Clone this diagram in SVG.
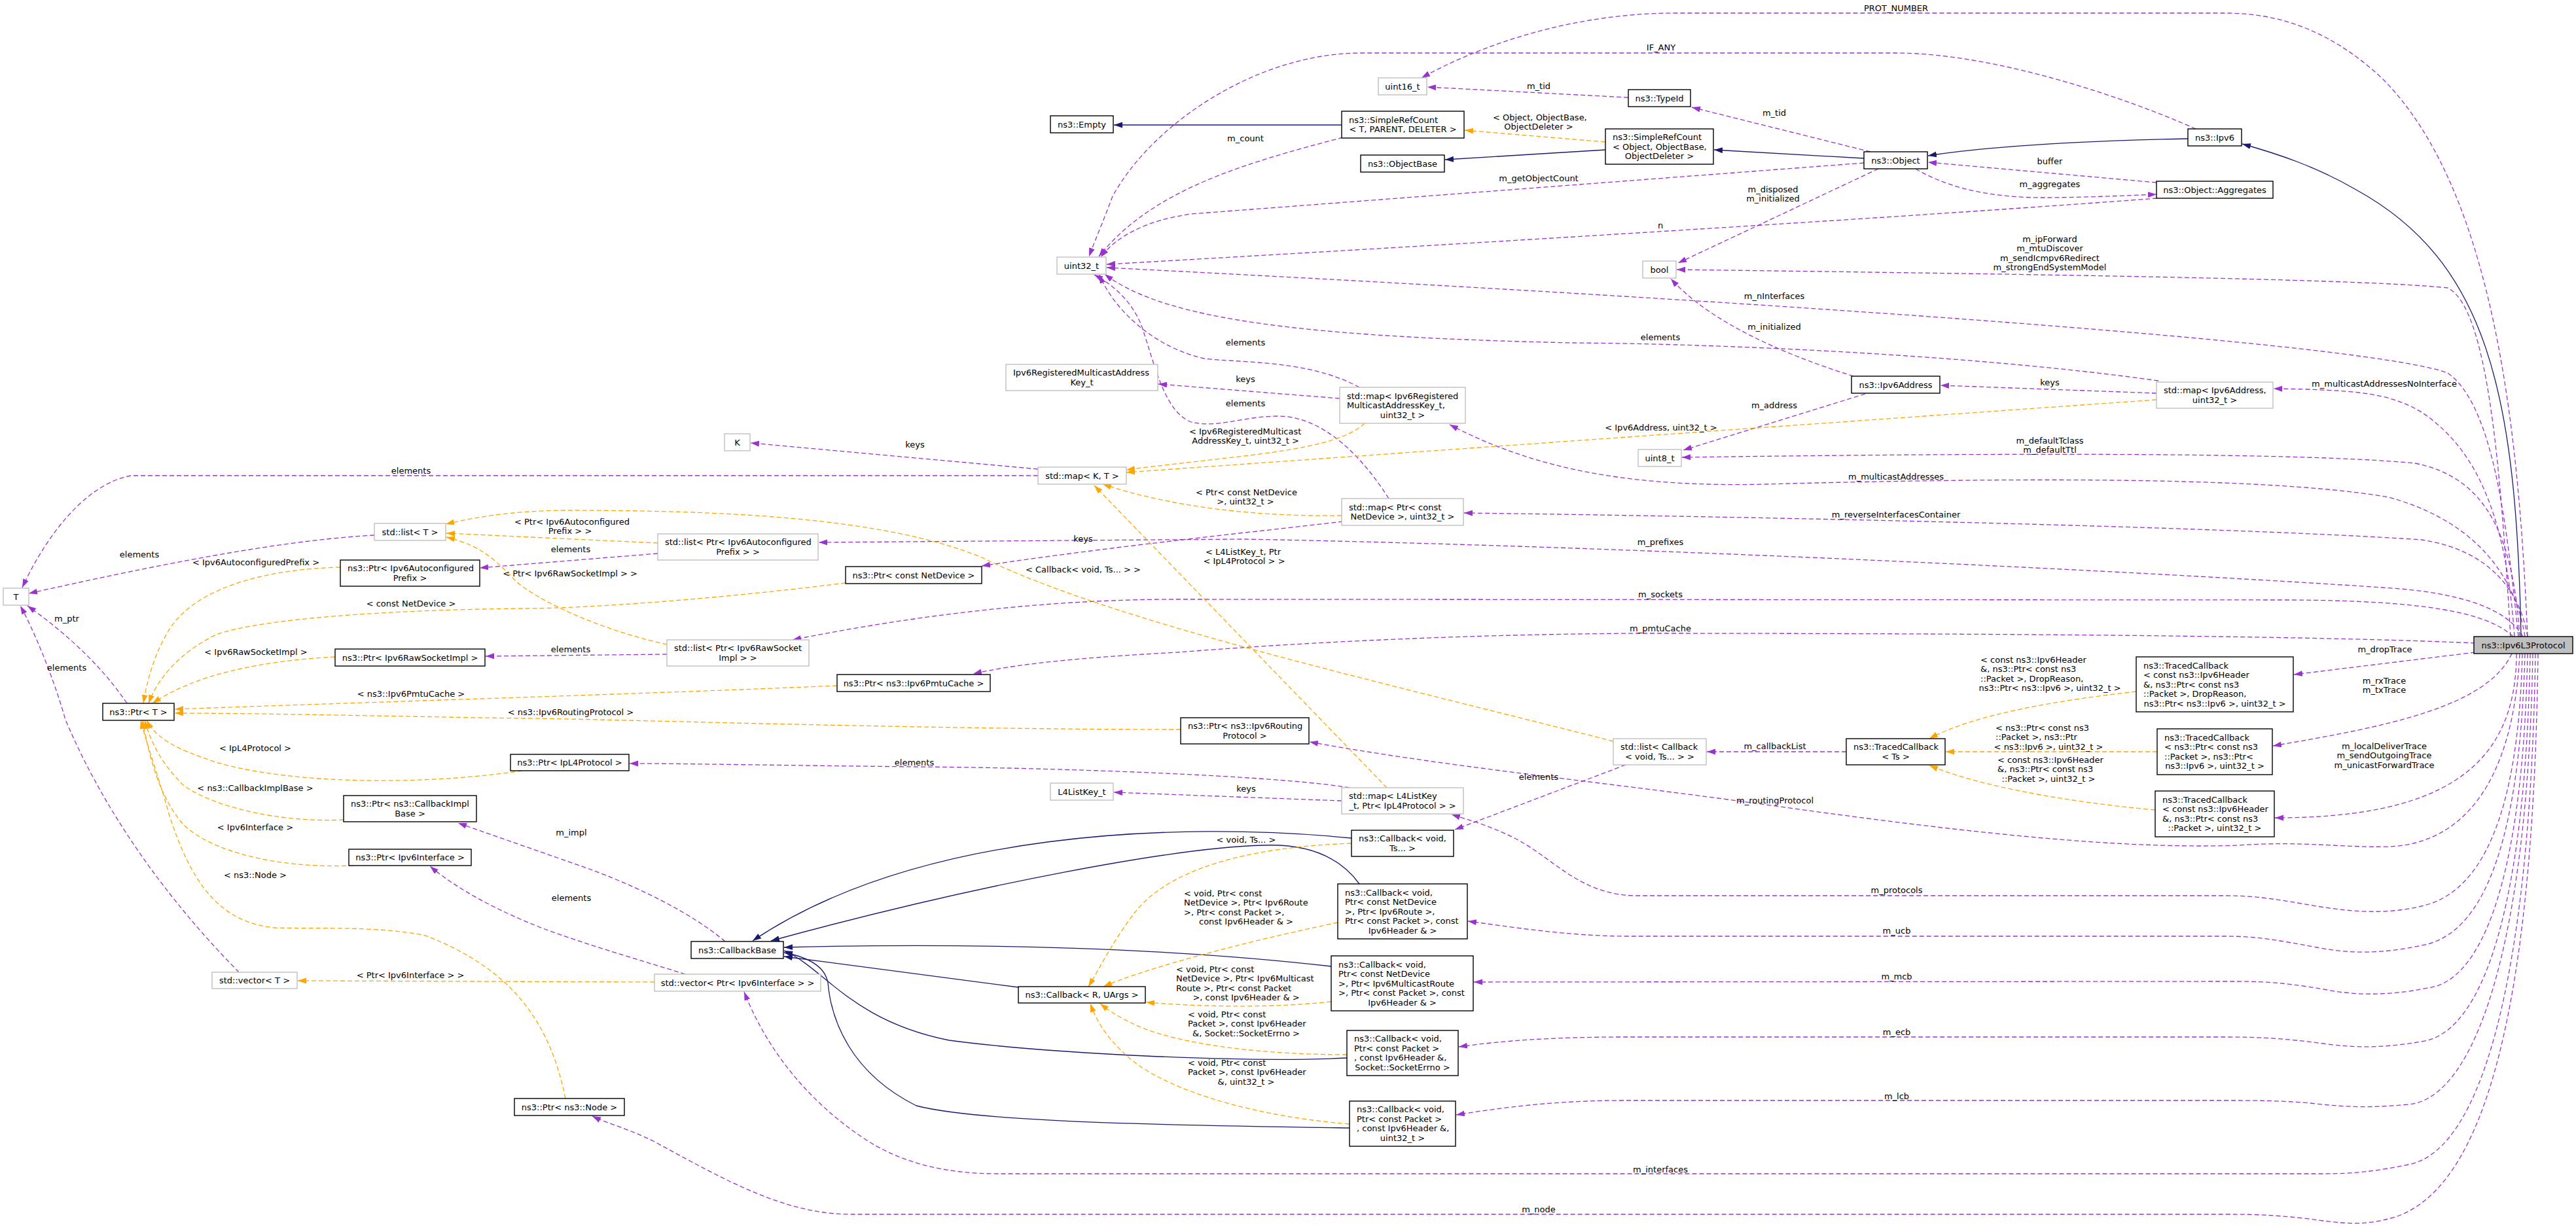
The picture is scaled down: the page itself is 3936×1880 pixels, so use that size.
<svg xmlns="http://www.w3.org/2000/svg" width="3936" height="1880" viewBox="0 0 3936 1880">
<style>
text{font-family:"DejaVu Sans","Noto Sans",sans-serif;font-size:13px;fill:#000}
.c{text-anchor:middle}
.n rect{fill:#fff;stroke:#000;stroke-width:1.4}
.g rect{stroke:#bfbfbf}
.root rect{fill:#bfbfbf}
#edges path{fill:none;stroke-width:1.3}
#edges .u{stroke:#9a32cd;stroke-dasharray:7,4;marker-end:url(#ap)}
#edges .t{stroke:#ffa500;stroke-dasharray:7,4;marker-end:url(#ao)}
#edges .i{stroke:#191970;marker-end:url(#an)}
</style>
<defs>
<marker id="ap" markerUnits="userSpaceOnUse" markerWidth="14" markerHeight="10" refX="13" refY="4.5" orient="auto"><path d="M0,0 L13,4.5 L0,9 z" fill="#9a32cd"/></marker>
<marker id="ao" markerUnits="userSpaceOnUse" markerWidth="14" markerHeight="10" refX="13" refY="4.5" orient="auto"><path d="M0,0 L13,4.5 L0,9 z" fill="#ffa500"/></marker>
<marker id="an" markerUnits="userSpaceOnUse" markerWidth="14" markerHeight="10" refX="13" refY="4.5" orient="auto"><path d="M0,0 L13,4.5 L0,9 z" fill="#191970"/></marker>
</defs>
<rect width="3936" height="1880" fill="#fff"/>
<g id="edges">
<path class="u" d="M3862,973 C3850,700 3820,300 3640,120 C3560,45 3480,20 3400,20 L2560,20 C2400,20 2260,70 2172,119"/>
<path class="u" d="M3355,197 C3250,150 3050,82 2900,81 L2080,81 C1920,81 1760,190 1700,300 C1685,340 1672,370 1664,392"/>
<path class="u" d="M2858,232 L2585,164"/>
<path class="u" d="M2488,149 L2181,133"/>
<path class="u" d="M2052,210 C1900,250 1760,290 1679,392"/>
<path class="u" d="M2848,249 L1820,327 C1750,337 1705,362 1682,393"/>
<path class="u" d="M3296,303 C2900,333 2200,375 1691,404"/>
<path class="u" d="M3848,973 C3830,800 3810,620 3740,570 C3600,520 2600,455 1691,409"/>
<path class="u" d="M3298,582 C3000,540 2600,525 2400,524 C2000,515 1780,490 1688,419"/>
<path class="u" d="M2077,592 C2000,550 1900,555 1840,548 C1760,530 1700,470 1680,420"/>
<path class="u" d="M2122,762 C2070,680 2010,636 1953,636 C1900,636 1860,655 1820,645 C1780,630 1765,560 1745,500 C1730,460 1700,435 1672,420"/>
<path class="u" d="M2047,609 L1770,587"/>
<path class="u" d="M3858,973 C3840,860 3760,790 3650,760 C3450,725 3000,732 2700,740 C2500,745 2350,720 2215,649"/>
<path class="u" d="M3862,973 C3850,900 3800,840 3700,825 C3400,805 2700,790 2237,784"/>
<path class="u" d="M2052,797 C1900,815 1700,835 1500,865"/>
<path class="u" d="M3855,973 C3830,930 3760,905 3640,898 C3300,875 2500,835 1900,824 L1251,829"/>
<path class="u" d="M1005,846 L733,868"/>
<path class="u" d="M572,818 C450,825 300,850 44,907"/>
<path class="u" d="M1586,727 L200,727 C130,740 70,820 34,898"/>
<path class="u" d="M1586,717 L1147,677"/>
<path class="u" d="M194,1075 C150,1010 90,960 42,926"/>
<path class="u" d="M365,1486 C310,1430 180,1290 100,1100 C80,1030 50,960 31,926"/>
<path class="u" d="M3840,973 C3800,935 3700,918 3500,917 L1800,916 C1600,916 1400,940 1211,978"/>
<path class="u" d="M1019,1000 L742,1003"/>
<path class="u" d="M3782,983 C3500,970 2900,968 2500,968 C2200,970 1950,985 1800,997 C1650,1005 1550,1015 1487,1030"/>
<path class="u" d="M3782,997 L3505,1031"/>
<path class="u" d="M3838,999 C3800,1080 3650,1110 3473,1140"/>
<path class="u" d="M3845,999 C3845,1180 3720,1250 3476,1250"/>
<path class="u" d="M2821,1149 L2608,1149"/>
<path class="u" d="M2484,1169 L2223,1268"/>
<path class="u" d="M3850,999 C3840,1200 3760,1290 3650,1294 C3580,1296 3520,1285 3420,1292 C3200,1300 2900,1258 2640,1222 C2400,1190 2200,1170 2001,1134"/>
<path class="u" d="M2050,1224 L1702,1211"/>
<path class="u" d="M2062,1204 C1950,1185 1600,1173 1397,1172 C1200,1170 1050,1167 962,1167"/>
<path class="u" d="M3854,999 C3848,1250 3790,1365 3700,1385 C3650,1397 3600,1395 3540,1385 C3480,1375 3450,1369 3400,1369 L2500,1369 C2420,1368 2380,1320 2330,1290 C2290,1266 2250,1255 2218,1245"/>
<path class="u" d="M3858,999 C3850,1300 3790,1430 3700,1445 C3640,1458 3590,1458 3540,1448 C3480,1437 3450,1431 3400,1431 L2480,1431 C2400,1430 2330,1420 2243,1408"/>
<path class="u" d="M3862,999 C3855,1350 3790,1500 3710,1510 C3650,1522 3600,1522 3550,1512 C3480,1500 3450,1500 3400,1500 L2252,1501"/>
<path class="u" d="M3866,999 C3858,1400 3790,1580 3700,1592 C3640,1602 3600,1602 3550,1595 C3490,1587 3450,1585 3400,1585 L2480,1585 C2380,1585 2300,1590 2229,1600"/>
<path class="u" d="M3870,999 C3862,1450 3780,1680 3680,1688 C3620,1694 3580,1692 3530,1686 C3480,1682 3450,1682 3400,1682 L2480,1682 C2380,1682 2300,1692 2225,1704"/>
<path class="u" d="M3874,999 C3866,1500 3790,1760 3680,1780 C3630,1790 3600,1794 3550,1794 L1525,1794 C1450,1794 1380,1780 1320,1740 C1230,1680 1170,1600 1137,1516"/>
<path class="u" d="M3878,999 C3870,1600 3780,1820 3660,1860 C3610,1875 3580,1870 3520,1862 C3470,1857 3450,1856 3400,1856 L1300,1856 C1200,1856 1110,1805 1000,1745 C960,1725 930,1718 905,1706"/>
<path class="u" d="M1108,1439 C1050,1390 960,1350 900,1328 L700,1258"/>
<path class="u" d="M1047,1489 C980,1468 900,1445 832,1420 C760,1392 700,1360 657,1324"/>
<path class="u" d="M3842,973 C3830,800 3790,690 3700,630 C3650,600 3600,596 3474,594"/>
<path class="u" d="M3295,601 L2965,589"/>
<path class="u" d="M2832,575 C2720,540 2610,490 2553,426"/>
<path class="u" d="M2850,602 L2572,688"/>
<path class="u" d="M2870,258 L2564,402"/>
<path class="u" d="M3836,973 C3820,700 3800,470 3740,440 C3600,425 3000,418 2562,412"/>
<path class="u" d="M3850,973 C3840,820 3800,730 3690,708 C3500,690 3000,693 2570,699"/>
<path class="u" d="M2927,258 C2980,290 3050,302 3120,302 C3180,302 3250,299 3295,297"/>
<path class="u" d="M3295,279 L2946,248"/>
<path class="i" d="M3852,973 C3845,600 3800,400 3600,290 C3540,255 3480,235 3426,220"/>
<path class="i" d="M3343,212 C3200,215 3050,222 2946,238"/>
<path class="i" d="M2848,242 L2619,229"/>
<path class="i" d="M2050,191 L1702,191"/>
<path class="i" d="M2453,229 L2208,244"/>
<path class="i" d="M1556,1509 L1198,1462"/>
<path class="i" d="M2065,1281 C1800,1255 1400,1270 1150,1438"/>
<path class="i" d="M2077,1351 C2040,1300 1980,1290 1930,1292 C1800,1295 1500,1350 1178,1438"/>
<path class="i" d="M2034,1477 C1800,1450 1500,1440 1198,1448"/>
<path class="i" d="M2058,1617 C1900,1625 1600,1610 1450,1590 C1300,1560 1260,1480 1198,1453"/>
<path class="i" d="M2062,1724 C1800,1720 1500,1716 1400,1690 C1300,1640 1270,1560 1265,1502 C1260,1475 1230,1462 1198,1456"/>
<path class="t" d="M2453,217 L2238,199"/>
<path class="t" d="M2085,647 C2040,690 1900,695 1721,718"/>
<path class="t" d="M3295,611 L1721,722"/>
<path class="t" d="M2050,788 C1920,790 1790,775 1685,740"/>
<path class="t" d="M2119,1204 L1672,742"/>
<path class="t" d="M1005,830 L682,815"/>
<path class="t" d="M2465,1133 C2100,1040 1700,950 1500,852 C1350,790 1100,780 864,780 C780,781 730,790 681,801"/>
<path class="t" d="M1019,985 C940,968 840,930 790,890 C760,860 740,835 682,821"/>
<path class="t" d="M520,867 C400,870 300,900 260,960 C235,1000 225,1040 219,1075"/>
<path class="t" d="M1292,891 C1100,915 900,930 800,930 C600,932 400,945 330,970 C270,1000 240,1040 227,1075"/>
<path class="t" d="M512,1004 C400,1010 300,1030 233,1075"/>
<path class="t" d="M1279,1048 C1000,1060 600,1072 267,1084"/>
<path class="t" d="M1804,1115 C1400,1115 900,1098 800,1098 C600,1095 400,1090 267,1090"/>
<path class="t" d="M798,1178 C650,1200 450,1200 330,1165 C270,1145 240,1130 224,1101"/>
<path class="t" d="M525,1253 C420,1258 320,1230 280,1200 C250,1170 232,1140 221,1101"/>
<path class="t" d="M540,1323 C420,1328 320,1300 280,1260 C245,1220 228,1160 218,1101"/>
<path class="t" d="M864,1679 C840,1560 780,1480 650,1430 C580,1415 480,1420 420,1418 C330,1410 290,1340 260,1250 C240,1180 225,1140 215,1101"/>
<path class="t" d="M1000,1501 L455,1499"/>
<path class="t" d="M2065,1289 C1900,1295 1780,1330 1730,1400 C1700,1440 1680,1480 1663,1508"/>
<path class="t" d="M2044,1410 C1900,1440 1750,1480 1686,1508"/>
<path class="t" d="M2034,1531 C1950,1540 1850,1540 1751,1532"/>
<path class="t" d="M2058,1612 C1900,1612 1780,1590 1730,1564 C1710,1555 1695,1545 1681,1534"/>
<path class="t" d="M2062,1718 C1900,1705 1770,1660 1721,1613 C1690,1585 1675,1560 1666,1534"/>
<path class="t" d="M3264,1057 C3150,1070 3020,1090 2948,1129"/>
<path class="t" d="M3296,1149 L2973,1149"/>
<path class="t" d="M3293,1238 C3150,1225 3020,1200 2948,1170"/>
<g id="edge-labels">
<text class="c" x="2897" y="16.5">PROT_NUMBER</text>
<text class="c" x="2538" y="76.5">IF_ANY</text>
<text class="c" x="2351" y="135.5">m_tid</text>
<text class="c" x="2711" y="176.5">m_tid</text>
<text><tspan x="2281" y="183.5">&lt; Object, ObjectBase,</tspan><tspan class="c" x="2351" y="198">ObjectDeleter &gt;</tspan></text>
<text class="c" x="1903" y="215.5">m_count</text>
<text class="c" x="3132" y="250.5">buffer</text>
<text class="c" x="2351" y="276.5">m_getObjectCount</text>
<text class="c" x="3132" y="285.5">m_aggregates</text>
<text class="c"><tspan x="2709" y="293.5">m_disposed</tspan><tspan x="2709" y="308">m_initialized</tspan></text>
<text class="c" x="2537" y="348.5">n</text>
<text class="c"><tspan x="3132" y="369.5">m_ipForward</tspan><tspan x="3132" y="384">m_mtuDiscover</tspan><tspan x="3132" y="398.5">m_sendIcmpv6Redirect</tspan><tspan x="3132" y="413">m_strongEndSystemModel</tspan></text>
<text class="c" x="2711" y="456.5">m_nInterfaces</text>
<text class="c" x="2711" y="503.5">m_initialized</text>
<text class="c" x="2537" y="519.5">elements</text>
<text class="c" x="1903" y="527.5">elements</text>
<text class="c" x="1903" y="583.5">keys</text>
<text class="c" x="3132" y="588.5">keys</text>
<text class="c" x="3643" y="590.5">m_multicastAddressesNoInterface</text>
<text class="c" x="1903" y="620.5">elements</text>
<text class="c" x="2711" y="623.5">m_address</text>
<text class="c" x="2538" y="657.5">&lt; Ipv6Address, uint32_t &gt;</text>
<text><tspan x="1817" y="663.5">&lt; Ipv6RegisteredMulticast</tspan><tspan class="c" x="1903" y="678">AddressKey_t, uint32_t &gt;</tspan></text>
<text class="c"><tspan x="3132" y="677.5">m_defaultTclass</tspan><tspan x="3132" y="692">m_defaultTtl</tspan></text>
<text class="c" x="1398" y="683.5">keys</text>
<text class="c" x="628" y="723.5">elements</text>
<text class="c" x="2897" y="732.5">m_multicastAddresses</text>
<text><tspan x="1827" y="756.5">&lt; Ptr&lt; const NetDevice</tspan><tspan class="c" x="1903" y="771">&gt;, uint32_t &gt;</tspan></text>
<text class="c" x="2897" y="790.5">m_reverseInterfacesContainer</text>
<text><tspan x="786" y="801.5">&lt; Ptr&lt; Ipv6Autoconfigured</tspan><tspan class="c" x="871" y="816">Prefix &gt; &gt;</tspan></text>
<text class="c" x="1655" y="827.5">keys</text>
<text class="c" x="2537" y="832.5">m_prefixes</text>
<text class="c" x="872" y="843.5">elements</text>
<text><tspan x="1842" y="847.5">&lt; L4ListKey_t, Ptr</tspan><tspan class="c" x="1901" y="862">&lt; IpL4Protocol &gt; &gt;</tspan></text>
<text class="c" x="213" y="851.5">elements</text>
<text class="c" x="391" y="863.5">&lt; Ipv6AutoconfiguredPrefix &gt;</text>
<text class="c" x="1655" y="874.5">&lt; Callback&lt; void, Ts... &gt; &gt;</text>
<text class="c" x="871" y="880.5">&lt; Ptr&lt; Ipv6RawSocketImpl &gt; &gt;</text>
<text class="c" x="2537" y="912.5">m_sockets</text>
<text class="c" x="628" y="926.5">&lt; const NetDevice &gt;</text>
<text class="c" x="102" y="949.5">m_ptr</text>
<text class="c" x="2537" y="964.5">m_pmtuCache</text>
<text class="c" x="872" y="996.5">elements</text>
<text class="c" x="3644" y="996.5">m_dropTrace</text>
<text class="c" x="391" y="1000.5">&lt; Ipv6RawSocketImpl &gt;</text>
<text><tspan x="3026" y="1012.5">&lt; const ns3::Ipv6Header</tspan><tspan x="3026" y="1027">&amp;, ns3::Ptr&lt; const ns3</tspan><tspan x="3026" y="1041.5">::Packet &gt;, DropReason,</tspan><tspan class="c" x="3132" y="1056">ns3::Ptr&lt; ns3::Ipv6 &gt;, uint32_t &gt;</tspan></text>
<text class="c" x="102" y="1024.5">elements</text>
<text class="c"><tspan x="3643" y="1044.5">m_rxTrace</tspan><tspan x="3643" y="1059">m_txTrace</tspan></text>
<text class="c" x="628" y="1064.5">&lt; ns3::Ipv6PmtuCache &gt;</text>
<text class="c" x="872" y="1092.5">&lt; ns3::Ipv6RoutingProtocol &gt;</text>
<text><tspan x="3049" y="1116.5">&lt; ns3::Ptr&lt; const ns3</tspan><tspan x="3049" y="1131">::Packet &gt;, ns3::Ptr</tspan><tspan class="c" x="3130" y="1145.5">&lt; ns3::Ipv6 &gt;, uint32_t &gt;</tspan></text>
<text class="c" x="2712" y="1144.5">m_callbackList</text>
<text class="c"><tspan x="3643" y="1144.5">m_localDeliverTrace</tspan><tspan x="3643" y="1159">m_sendOutgoingTrace</tspan><tspan x="3643" y="1173.5">m_unicastForwardTrace</tspan></text>
<text class="c" x="390" y="1147.5">&lt; IpL4Protocol &gt;</text>
<text><tspan x="3052" y="1165.5">&lt; const ns3::Ipv6Header</tspan><tspan x="3052" y="1180">&amp;, ns3::Ptr&lt; const ns3</tspan><tspan class="c" x="3130" y="1194.5">::Packet &gt;, uint32_t &gt;</tspan></text>
<text class="c" x="1397" y="1169.5">elements</text>
<text class="c" x="2351" y="1191.5">elements</text>
<text class="c" x="1904" y="1209.5">keys</text>
<text class="c" x="390" y="1208.5">&lt; ns3::CallbackImplBase &gt;</text>
<text class="c" x="2712" y="1227.5">m_routingProtocol</text>
<text class="c" x="390" y="1268.5">&lt; Ipv6Interface &gt;</text>
<text class="c" x="873" y="1276.5">m_impl</text>
<text class="c" x="1904" y="1287.5">&lt; void, Ts... &gt;</text>
<text class="c" x="390" y="1341.5">&lt; ns3::Node &gt;</text>
<text class="c" x="2898" y="1364.5">m_protocols</text>
<text><tspan x="1809" y="1369.5">&lt; void, Ptr&lt; const</tspan><tspan x="1809" y="1384">NetDevice &gt;, Ptr&lt; Ipv6Route</tspan><tspan x="1809" y="1398.5">&gt;, Ptr&lt; const Packet &gt;,</tspan><tspan class="c" x="1904" y="1413">const Ipv6Header &amp; &gt;</tspan></text>
<text class="c" x="873" y="1376.5">elements</text>
<text class="c" x="2898" y="1426.5">m_ucb</text>
<text><tspan x="1797" y="1485.5">&lt; void, Ptr&lt; const</tspan><tspan x="1797" y="1500">NetDevice &gt;, Ptr&lt; Ipv6Multicast</tspan><tspan x="1797" y="1514.5">Route &gt;, Ptr&lt; const Packet</tspan><tspan class="c" x="1904" y="1529">&gt;, const Ipv6Header &amp; &gt;</tspan></text>
<text class="c" x="627" y="1494.5">&lt; Ptr&lt; Ipv6Interface &gt; &gt;</text>
<text class="c" x="2898" y="1496.5">m_mcb</text>
<text><tspan x="1815" y="1554.5">&lt; void, Ptr&lt; const</tspan><tspan x="1815" y="1569">Packet &gt;, const Ipv6Header</tspan><tspan class="c" x="1904" y="1583.5">&amp;, Socket::SocketErrno &gt;</tspan></text>
<text class="c" x="2898" y="1581.5">m_ecb</text>
<text><tspan x="1815" y="1628.5">&lt; void, Ptr&lt; const</tspan><tspan x="1815" y="1643">Packet &gt;, const Ipv6Header</tspan><tspan class="c" x="1904" y="1657.5">&amp;, uint32_t &gt;</tspan></text>
<text class="c" x="2898" y="1679.5">m_lcb</text>
<text class="c" x="2537" y="1791.5">m_interfaces</text>
<text class="c" x="2351" y="1852.5">m_node</text>
</g>
</g>
<g id="nodes">
<g id="n_uint16" class="n g"><rect x="2106" y="119" width="74" height="26"/><text class="c" x="2143" y="136.5">uint16_t</text></g>
<g id="n_empty" class="n"><rect x="1605" y="177" width="96" height="26"/><text class="c" x="1653" y="194.5">ns3::Empty</text></g>
<g id="n_src_t" class="n"><rect x="2050" y="170" width="187" height="41"/><text><tspan x="2061" y="187.75">ns3::SimpleRefCount</tspan><tspan class="c" x="2143.5" y="202.25">&lt; T, PARENT, DELETER &gt;</tspan></text></g>
<g id="n_objectbase" class="n"><rect x="2079" y="237" width="128" height="26"/><text class="c" x="2143" y="254.5">ns3::ObjectBase</text></g>
<g id="n_typeid" class="n"><rect x="2488" y="137" width="95" height="26"/><text class="c" x="2535.5" y="154.5">ns3::TypeId</text></g>
<g id="n_src_obj" class="n"><rect x="2453" y="197" width="165" height="54"/><text><tspan x="2464" y="214">ns3::SimpleRefCount</tspan><tspan x="2464" y="228.5">&lt; Object, ObjectBase,</tspan><tspan class="c" x="2535.5" y="243">ObjectDeleter &gt;</tspan></text></g>
<g id="n_object" class="n"><rect x="2848" y="232" width="97" height="26"/><text class="c" x="2896.5" y="249.5">ns3::Object</text></g>
<g id="n_ipv6" class="n"><rect x="3343" y="197" width="82" height="26"/><text class="c" x="3384" y="214.5">ns3::Ipv6</text></g>
<g id="n_aggregates" class="n"><rect x="3295" y="277" width="178" height="26"/><text class="c" x="3384" y="294.5">ns3::Object::Aggregates</text></g>
<g id="n_uint32" class="n g"><rect x="1615" y="393" width="75" height="26"/><text class="c" x="1652.5" y="410.5">uint32_t</text></g>
<g id="n_bool" class="n g"><rect x="2510" y="399" width="51" height="26"/><text class="c" x="2535.5" y="416.5">bool</text></g>
<g id="n_regkey" class="n g"><rect x="1537" y="557" width="232" height="40"/><text><tspan x="1548" y="574.25">Ipv6RegisteredMulticastAddress</tspan><tspan class="c" x="1653" y="588.75">Key_t</tspan></text></g>
<g id="n_map_reg" class="n g"><rect x="2047" y="592" width="192" height="55"/><text><tspan x="2058" y="609.5">std::map&lt; Ipv6Registered</tspan><tspan x="2058" y="624">MulticastAddressKey_t,</tspan><tspan class="c" x="2143" y="638.5">uint32_t &gt;</tspan></text></g>
<g id="n_ipv6address" class="n"><rect x="2829" y="575" width="135" height="26"/><text class="c" x="2896.5" y="592.5">ns3::Ipv6Address</text></g>
<g id="n_map_addr" class="n g"><rect x="3295" y="584" width="178" height="40"/><text><tspan x="3306" y="601.25">std::map&lt; Ipv6Address,</tspan><tspan class="c" x="3384" y="615.75">uint32_t &gt;</tspan></text></g>
<g id="n_map_kt" class="n g"><rect x="1586" y="714" width="135" height="26"/><text class="c" x="1653.5" y="731.5">std::map&lt; K, T &gt;</text></g>
<g id="n_k" class="n g"><rect x="1107" y="663" width="39" height="26"/><text class="c" x="1126.5" y="680.5">K</text></g>
<g id="n_uint8" class="n g"><rect x="2503" y="687" width="66" height="26"/><text class="c" x="2536" y="704.5">uint8_t</text></g>
<g id="n_map_nd" class="n g"><rect x="2050" y="762" width="186" height="41"/><text><tspan x="2061" y="779.75">std::map&lt; Ptr&lt; const</tspan><tspan class="c" x="2143" y="794.25">NetDevice &gt;, uint32_t &gt;</tspan></text></g>
<g id="n_t" class="n g"><rect x="5" y="899" width="39" height="26"/><text class="c" x="24.5" y="916.5">T</text></g>
<g id="n_list_t" class="n g"><rect x="572" y="800" width="109" height="26"/><text class="c" x="626.5" y="817.5">std::list&lt; T &gt;</text></g>
<g id="n_ptr_autoconf" class="n"><rect x="520" y="856" width="213" height="40"/><text><tspan x="531" y="873.25">ns3::Ptr&lt; Ipv6Autoconfigured</tspan><tspan class="c" x="626.5" y="887.75">Prefix &gt;</tspan></text></g>
<g id="n_list_autoconf" class="n g"><rect x="1005" y="816" width="245" height="40"/><text><tspan x="1016" y="833.25">std::list&lt; Ptr&lt; Ipv6Autoconfigured</tspan><tspan class="c" x="1127.5" y="847.75">Prefix &gt; &gt;</tspan></text></g>
<g id="n_ptr_netdevice" class="n"><rect x="1292" y="866" width="208" height="26"/><text class="c" x="1396" y="883.5">ns3::Ptr&lt; const NetDevice &gt;</text></g>
<g id="n_list_raw" class="n g"><rect x="1019" y="978" width="217" height="40"/><text><tspan x="1030" y="995.25">std::list&lt; Ptr&lt; Ipv6RawSocket</tspan><tspan class="c" x="1127.5" y="1009.75">Impl &gt; &gt;</tspan></text></g>
<g id="n_ptr_raw" class="n"><rect x="512" y="992" width="229" height="26"/><text class="c" x="626.5" y="1009.5">ns3::Ptr&lt; Ipv6RawSocketImpl &gt;</text></g>
<g id="n_ptr_pmtu" class="n"><rect x="1279" y="1031" width="234" height="26"/><text class="c" x="1396" y="1048.5">ns3::Ptr&lt; ns3::Ipv6PmtuCache &gt;</text></g>
<g id="n_ptr_t" class="n"><rect x="157" y="1075" width="109" height="26"/><text class="c" x="211.5" y="1092.5">ns3::Ptr&lt; T &gt;</text></g>
<g id="n_ipv6l3" class="n root"><rect x="3780" y="973" width="151" height="26"/><text class="c" x="3855.5" y="990.5">ns3::Ipv6L3Protocol</text></g>
<g id="n_tc_drop" class="n"><rect x="3264" y="1004" width="240" height="84"/><text><tspan x="3275" y="1021.5">ns3::TracedCallback</tspan><tspan x="3275" y="1036">&lt; const ns3::Ipv6Header</tspan><tspan x="3275" y="1050.5">&amp;, ns3::Ptr&lt; const ns3</tspan><tspan x="3275" y="1065">::Packet &gt;, DropReason,</tspan><tspan class="c" x="3384" y="1079.5">ns3::Ptr&lt; ns3::Ipv6 &gt;, uint32_t &gt;</tspan></text></g>
<g id="n_ptr_routing" class="n"><rect x="1804" y="1097" width="196" height="40"/><text><tspan x="1815" y="1114.25">ns3::Ptr&lt; ns3::Ipv6Routing</tspan><tspan class="c" x="1902" y="1128.75">Protocol &gt;</tspan></text></g>
<g id="n_list_cb" class="n g"><rect x="2465" y="1129" width="142" height="40"/><text><tspan x="2476" y="1146.25">std::list&lt; Callback</tspan><tspan class="c" x="2536" y="1160.75">&lt; void, Ts... &gt; &gt;</tspan></text></g>
<g id="n_tc_ts" class="n"><rect x="2821" y="1129" width="151" height="40"/><text><tspan x="2832" y="1146.25">ns3::TracedCallback</tspan><tspan class="c" x="2896.5" y="1160.75">&lt; Ts &gt;</tspan></text></g>
<g id="n_tc_pkt" class="n"><rect x="3296" y="1114" width="176" height="70"/><text><tspan x="3307" y="1131.75">ns3::TracedCallback</tspan><tspan x="3307" y="1146.25">&lt; ns3::Ptr&lt; const ns3</tspan><tspan x="3307" y="1160.75">::Packet &gt;, ns3::Ptr&lt;</tspan><tspan class="c" x="3384" y="1175.25">ns3::Ipv6 &gt;, uint32_t &gt;</tspan></text></g>
<g id="n_tc_hdr" class="n"><rect x="3293" y="1209" width="182" height="70"/><text><tspan x="3304" y="1226.75">ns3::TracedCallback</tspan><tspan x="3304" y="1241.25">&lt; const ns3::Ipv6Header</tspan><tspan x="3304" y="1255.75">&amp;, ns3::Ptr&lt; const ns3</tspan><tspan class="c" x="3384" y="1270.25">::Packet &gt;, uint32_t &gt;</tspan></text></g>
<g id="n_ptr_ipl4" class="n"><rect x="780" y="1153" width="181" height="25"/><text class="c" x="870.5" y="1170">ns3::Ptr&lt; IpL4Protocol &gt;</text></g>
<g id="n_l4key" class="n g"><rect x="1605" y="1197" width="96" height="26"/><text class="c" x="1653" y="1214.5">L4ListKey_t</text></g>
<g id="n_map_l4" class="n g"><rect x="2050" y="1204" width="186" height="40"/><text><tspan x="2061" y="1221.25">std::map&lt; L4ListKey</tspan><tspan class="c" x="2143" y="1235.75">_t, Ptr&lt; IpL4Protocol &gt; &gt;</tspan></text></g>
<g id="n_ptr_cib" class="n"><rect x="525" y="1216" width="203" height="40"/><text><tspan x="536" y="1233.25">ns3::Ptr&lt; ns3::CallbackImpl</tspan><tspan class="c" x="626.5" y="1247.75">Base &gt;</tspan></text></g>
<g id="n_cb_ts" class="n"><rect x="2065" y="1269" width="156" height="40"/><text><tspan x="2076" y="1286.25">ns3::Callback&lt; void,</tspan><tspan class="c" x="2143" y="1300.75">Ts... &gt;</tspan></text></g>
<g id="n_ptr_iface" class="n"><rect x="533" y="1298" width="187" height="25"/><text class="c" x="626.5" y="1315">ns3::Ptr&lt; Ipv6Interface &gt;</text></g>
<g id="n_cbbase" class="n"><rect x="1056" y="1439" width="141" height="26"/><text class="c" x="1126.5" y="1456.5">ns3::CallbackBase</text></g>
<g id="n_cb_route" class="n"><rect x="2044" y="1351" width="198" height="84"/><text><tspan x="2055" y="1368.5">ns3::Callback&lt; void,</tspan><tspan x="2055" y="1383">Ptr&lt; const NetDevice</tspan><tspan x="2055" y="1397.5">&gt;, Ptr&lt; Ipv6Route &gt;,</tspan><tspan x="2055" y="1412">Ptr&lt; const Packet &gt;, const</tspan><tspan class="c" x="2143" y="1426.5">Ipv6Header &amp; &gt;</tspan></text></g>
<g id="n_vector_t" class="n g"><rect x="324" y="1486" width="130" height="25"/><text class="c" x="389" y="1503">std::vector&lt; T &gt;</text></g>
<g id="n_vector_iface" class="n g"><rect x="1000" y="1489" width="254" height="26"/><text class="c" x="1127" y="1506.5">std::vector&lt; Ptr&lt; Ipv6Interface &gt; &gt;</text></g>
<g id="n_cb_r" class="n"><rect x="1556" y="1508" width="194" height="25"/><text class="c" x="1653" y="1525">ns3::Callback&lt; R, UArgs &gt;</text></g>
<g id="n_cb_mroute" class="n"><rect x="2034" y="1461" width="217" height="84"/><text><tspan x="2045" y="1478.5">ns3::Callback&lt; void,</tspan><tspan x="2045" y="1493">Ptr&lt; const NetDevice</tspan><tspan x="2045" y="1507.5">&gt;, Ptr&lt; Ipv6MulticastRoute</tspan><tspan x="2045" y="1522">&gt;, Ptr&lt; const Packet &gt;, const</tspan><tspan class="c" x="2142.5" y="1536.5">Ipv6Header &amp; &gt;</tspan></text></g>
<g id="n_cb_errno" class="n"><rect x="2058" y="1575" width="170" height="69"/><text><tspan x="2069" y="1592.25">ns3::Callback&lt; void,</tspan><tspan x="2069" y="1606.75">Ptr&lt; const Packet &gt;</tspan><tspan x="2069" y="1621.25">, const Ipv6Header &amp;,</tspan><tspan class="c" x="2143" y="1635.75">Socket::SocketErrno &gt;</tspan></text></g>
<g id="n_ptr_node" class="n"><rect x="786" y="1679" width="168" height="26"/><text class="c" x="870" y="1696.5">ns3::Ptr&lt; ns3::Node &gt;</text></g>
<g id="n_cb_u32" class="n"><rect x="2062" y="1683" width="162" height="69"/><text><tspan x="2073" y="1700.25">ns3::Callback&lt; void,</tspan><tspan x="2073" y="1714.75">Ptr&lt; const Packet &gt;</tspan><tspan x="2073" y="1729.25">, const Ipv6Header &amp;,</tspan><tspan class="c" x="2143" y="1743.75">uint32_t &gt;</tspan></text></g>
</g>
</svg>
